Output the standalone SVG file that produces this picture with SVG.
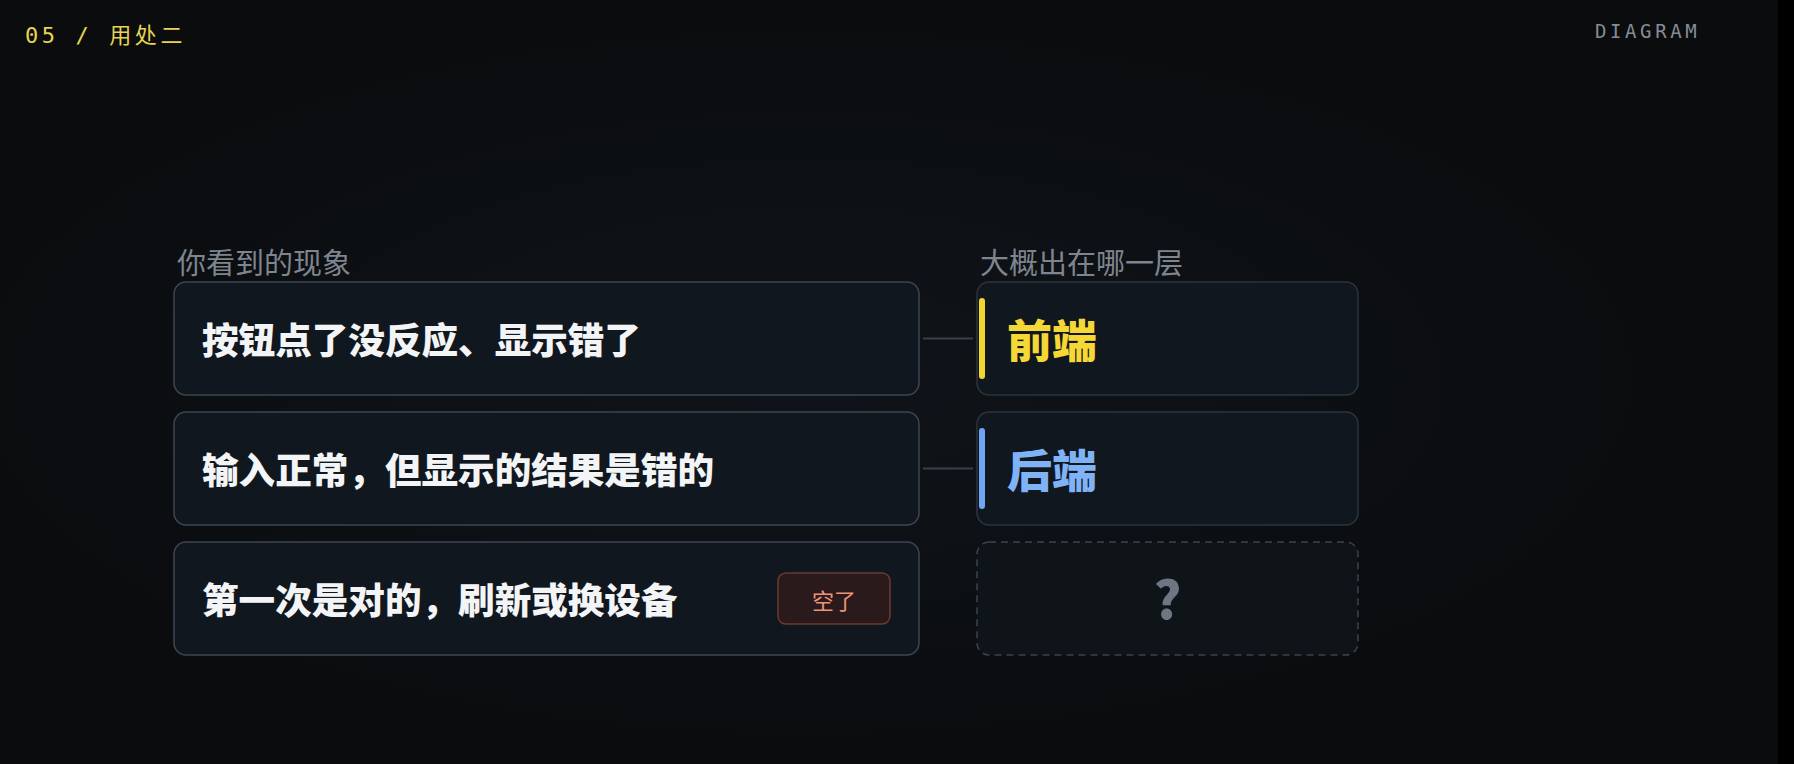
<svg xmlns="http://www.w3.org/2000/svg" width="1794" height="764" viewBox="0 0 1794 764">
  <defs>
    <radialGradient id="glow" cx="0.45" cy="0.5" r="0.5">
      <stop offset="0" stop-color="#10141a"/>
      <stop offset="1" stop-color="#0a0c0e"/>
    </radialGradient>
    <style>
      .bg { fill: url(#glow); }
      .card { fill: #11171e; stroke: #3d4651; stroke-width: 1.5; }
      .rcard { fill: #11171e; stroke: #2c343e; stroke-width: 1.5; }
      .dash { fill: #0f1419; stroke: #3b434e; stroke-width: 1.5; stroke-dasharray: 7 5; }
      .conn { stroke: #3a4048; stroke-width: 2; fill: none; }
      .title { font-family: "Noto Sans CJK SC", "Noto Sans", sans-serif; font-weight: 900; font-size: 36.6px; fill: #f3f4f6; }
      .layer { font-family: "Noto Sans CJK SC", "Noto Sans", sans-serif; font-weight: 900; font-size: 45px; }
      .label { font-family: "Noto Sans CJK SC", "Noto Sans", sans-serif; font-size: 29px; fill: #7f858e; }
      .mono { font-family: "DejaVu Sans Mono", "Noto Sans CJK SC", monospace; }
    </style>
  </defs>
  <rect class="bg" x="0" y="0" width="1794" height="764"/>
  <rect x="1778" y="0" width="16" height="764" fill="#000"/>

  <g id="header">
    <text class="mono" x="25" y="43" font-size="22" letter-spacing="3.6" fill="#e8d44d">05 / <tspan font-family="Noto Sans CJK SC, sans-serif">用处二</tspan></text>
    <text class="mono" x="1595" y="38" font-size="19" letter-spacing="3.6" fill="#868c95">DIAGRAM</text>
  </g>

  <g id="labels">
    <text class="label" x="177" y="274">你看到的现象</text>
    <text class="label" x="980" y="274">大概出在哪一层</text>
  </g>

  <g id="connectors">
    <line class="conn" x1="923" y1="338.5" x2="973" y2="338.5"/>
    <line class="conn" x1="923" y1="468.5" x2="973" y2="468.5"/>
  </g>

  <g id="symptom-1">
    <rect class="card" x="174" y="282" width="745" height="113" rx="12"/>
    <text class="title" x="202" y="338" dominant-baseline="central">按钮点了没反应、显示错了</text>
  </g>
  <g id="symptom-2">
    <rect class="card" x="174" y="412" width="745" height="113" rx="12"/>
    <text class="title" x="202" y="468" dominant-baseline="central">输入正常，但显示的结果是错的</text>
  </g>
  <g id="symptom-3">
    <rect class="card" x="174" y="542" width="745" height="113" rx="12"/>
    <text class="title" x="202" y="598" dominant-baseline="central">第一次是对的，刷新或换设备</text>
    <g id="badge-empty">
      <rect x="778" y="573" width="112" height="51" rx="8" fill="#2a1a1b" stroke="#6e3a31" stroke-width="1.5"/>
      <text x="834" y="599" text-anchor="middle" dominant-baseline="central" font-family="Noto Sans CJK SC, sans-serif" font-size="22" fill="#ef9378">空了</text>
    </g>
  </g>

  <g id="layer-frontend">
    <rect class="rcard" x="977" y="282" width="381" height="113" rx="12"/>
    <rect x="979" y="298" width="6" height="81" rx="3" fill="#f2d62e"/>
    <text class="layer" x="1007" y="338.5" dominant-baseline="central" fill="#f5d836">前端</text>
  </g>
  <g id="layer-backend">
    <rect class="rcard" x="977" y="412" width="381" height="113" rx="12"/>
    <rect x="979" y="428" width="6" height="81" rx="3" fill="#6fa6f2"/>
    <text class="layer" x="1007" y="468.5" dominant-baseline="central" fill="#80b3f6">后端</text>
  </g>
  <g id="layer-unknown">
    <rect class="dash" x="977" y="542" width="381" height="113" rx="12"/>
    <text x="1167.5" y="596" text-anchor="middle" dominant-baseline="central" font-family="Noto Sans CJK SC, Liberation Sans, sans-serif" font-weight="900" font-size="52" fill="#6e7683">?</text>
  </g>
</svg>
